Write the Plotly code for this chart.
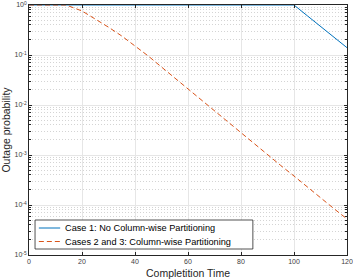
import plotly.graph_objects as go

# Completion time values
x_case1 = [0, 100, 105, 110, 115, 120]
y_case1 = [1.0, 1.0, 0.61, 0.37, 0.225, 0.14]

x_case23 = [0, 5, 10, 14, 20, 25, 30, 35, 40, 45, 50, 55, 60, 65, 70, 75, 80, 85,
            90, 95, 100, 105, 110, 115, 120]
y_case23 = [1.0, 1.0, 1.0, 1.0, 0.76, 0.525, 0.36, 0.24, 0.151, 0.0955, 0.0575,
            0.0347, 0.0209, 0.0126, 0.00759, 0.00457, 0.00275, 0.00166, 0.00098,
            0.000617, 0.00038, 0.000229, 0.000141, 0.0000851, 0.0000525]

series_names = ["Case 1: No Column-wise Partitioning",
                "Cases 2 and 3: Column-wise Partitioning"]
series_colors = ["#0072BD", "#D95319"]
series_dash = ["solid", "5px,3px"]

x_ticks = [0, 20, 40, 60, 80, 100, 120]
y_ticks = [1e-5, 1e-4, 1e-3, 1e-2, 1e-1, 1]
y_ticktext = ["10<sup>-5</sup>", "10<sup>-4</sup>", "10<sup>-3</sup>",
              "10<sup>-2</sup>", "10<sup>-1</sup>", "10<sup>0</sup>"]

fig = go.Figure()
for xs, ys, nm, c, d in [(x_case1, y_case1, series_names[0], series_colors[0], series_dash[0]),
                         (x_case23, y_case23, series_names[1], series_colors[1], series_dash[1])]:
    fig.add_trace(go.Scatter(x=xs, y=ys, mode="lines", name=nm, hoverinfo="skip",
                             line=dict(color=c, width=1, dash=d), showlegend=False))

# Manual compact legend (box, samples, labels)
fig.add_shape(type="rect", xref="x domain", yref="y domain",
              x0=0.019, x1=0.704, y0=0.024, y1=0.14,
              line=dict(color="#262626", width=0.8), fillcolor="white", layer="above")
legend_y = [0.108, 0.054]
for i in range(2):
    fig.add_shape(type="line", xref="x domain", yref="y domain",
                  x0=0.031, x1=0.098, y0=legend_y[i], y1=legend_y[i],
                  line=dict(color=series_colors[i], width=1, dash=series_dash[i]),
                  layer="above")
    fig.add_annotation(xref="x domain", yref="y domain", x=0.106, y=legend_y[i],
                       xanchor="left", yanchor="middle", showarrow=False,
                       text=series_names[i], font=dict(size=9.2, color="black"))

fig.update_layout(
    width=353, height=280,
    margin=dict(l=29, r=6, t=5, b=25, autoexpand=False),
    paper_bgcolor="white", plot_bgcolor="white",
    font=dict(family="Liberation Sans, Arial, sans-serif", size=7, color="#262626"),
    showlegend=False,
)
fig.update_xaxes(range=[0, 120], tickvals=x_ticks, ticks="inside", ticklen=3,
                 tickcolor="#262626", automargin=False,
                 showline=True, linecolor="#262626", linewidth=0.8, mirror="ticks",
                 showgrid=True, gridcolor="#e6e6e6", gridwidth=1, zeroline=False,
                 title=dict(text="Completition Time", font=dict(size=10.5, color="#262626"),
                            standoff=5),
                 tickfont=dict(size=7, color="#404040"))
fig.update_yaxes(type="log", range=[-5, 0], tickvals=y_ticks, ticktext=y_ticktext,
                 ticks="inside", ticklen=3, tickcolor="#262626", automargin=False,
                 showline=True, linecolor="#262626", linewidth=0.8, mirror="ticks",
                 showgrid=True, gridcolor="#e6e6e6", gridwidth=1, zeroline=False,
                 minor=dict(showgrid=True, gridcolor="#d4d4d4", griddash="1px,2px",
                            gridwidth=1, dtick="D1", ticks="inside", ticklen=2,
                            tickcolor="#262626"),
                 title=dict(text="Outage probability", font=dict(size=10.5, color="#262626"),
                            standoff=4),
                 tickfont=dict(size=7, color="#404040"))

fig.write_html("out.html", config={"displayModeBar": False},
               post_script="document.body.style.margin='0';")
